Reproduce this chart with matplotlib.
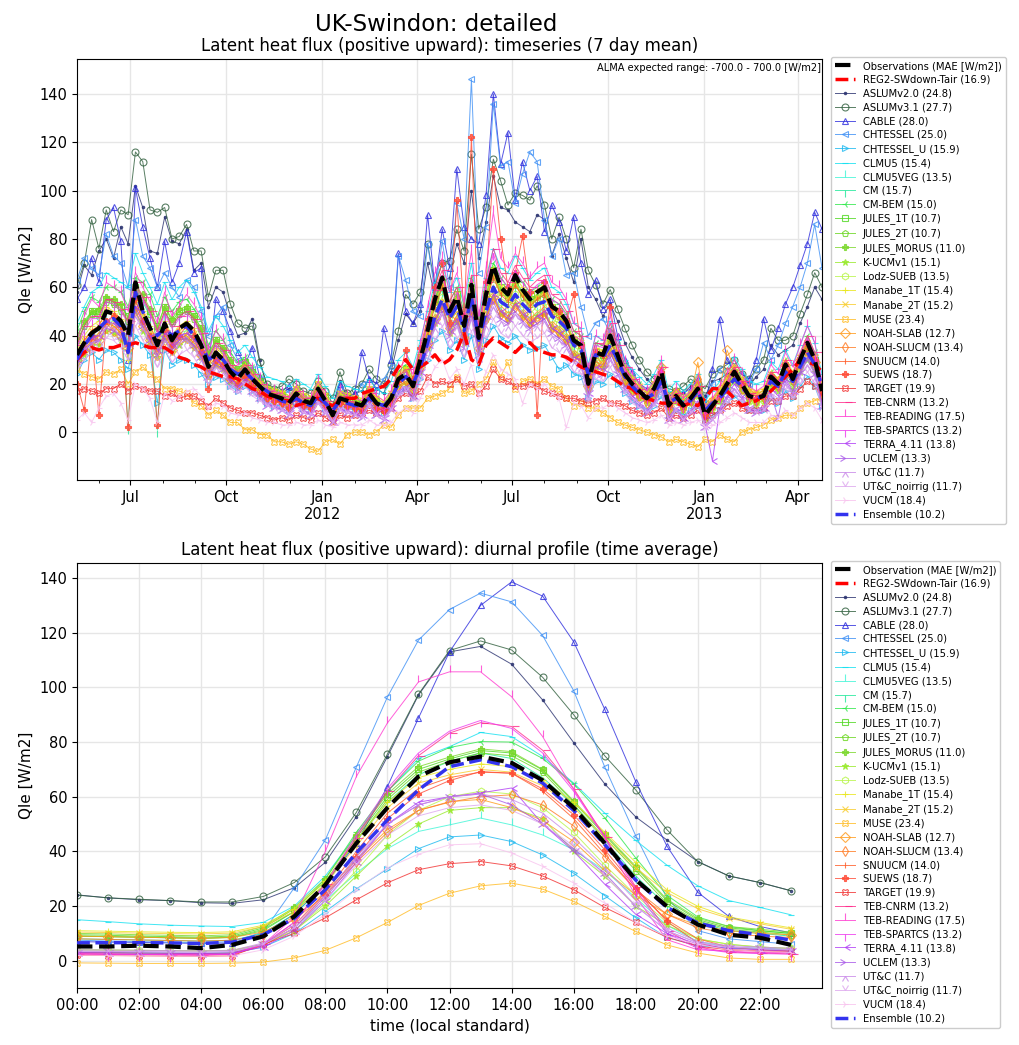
import numpy as np
import pandas as pd
import matplotlib
matplotlib.use("Agg")
import matplotlib.pyplot as plt
import matplotlib.dates as mdates

# ---------- DATA: weekly means (W/m2), 2011-05-11 .. 2013-04-25 ----------
ts_start = "2011-05-11"
ts_periods = 103

ts_obs = [32, 37, 41, 43, 50, 49, 46, 40, 62, 50, 43, 36, 45, 38, 43, 45, 42, 36, 27, 33,
          30, 25, 22, 26, 22, 19, 16, 15, 14, 12, 16, 13, 12, 18, 13, 7, 14, 13, 12, 11,
          16, 12, 10, 14, 22, 24, 19, 30, 42, 55, 64, 50, 56, 44, 61, 39, 57, 69, 60, 57,
          65, 59, 55, 58, 60, 52, 50, 46, 38, 36, 20, 33, 32, 40, 32, 24, 20, 17, 14, 18,
          25, 11, 15, 11, 14, 18, 7, 11, 15, 20, 25, 20, 15, 14, 15, 23, 20, 28, 22, 30,
          37, 30, 17]
ts_reg2 = [30, 33, 35, 34, 35, 35, 36, 36, 37, 36, 35, 35, 35, 33, 31, 30, 28, 27, 25, 24,
           23, 23, 22, 20, 18, 17, 15, 14, 13, 13, 11, 12, 13, 14, 12, 11, 13, 14, 14, 16,
           17, 18, 19, 22, 27, 30, 26, 27, 29, 32, 28, 30, 34, 41, 30, 28, 36, 39, 37, 35,
           33, 36, 37, 34, 33, 32, 32, 31, 29, 27, 26, 25, 24, 23, 21, 19, 18, 15, 14, 13,
           12, 12, 12, 11, 12, 11, 14, 18, 18, 17, 14, 11, 12, 13, 15, 17, 20, 23, 26, 30,
           29, 28, 25]
ts_ens = [30, 36, 40, 43, 46, 47, 44, 33, 58, 50, 43, 40, 43, 40, 42, 44, 40, 36, 30, 32,
          30, 26, 24, 25, 22, 19, 17, 15, 13, 12, 14, 12, 11, 15, 12, 9, 13, 12, 11, 11,
          14, 12, 11, 14, 20, 23, 20, 27, 37, 48, 55, 47, 52, 42, 56, 38, 50, 60, 54, 52,
          57, 53, 50, 53, 54, 48, 46, 43, 36, 34, 24, 32, 31, 36, 30, 23, 19, 16, 14, 16,
          21, 12, 14, 12, 13, 17, 9, 12, 14, 18, 22, 19, 15, 14, 15, 21, 19, 25, 21, 27,
          33, 28, 19]

ts_aslum20 = [58, 69, 65, 75, 80, 72, 85, 78, 102, 93, 75, 74, 89, 79, 78, 84, 67, 70, 52, 60,
              58, 48, 40, 41, 47, 30, 19, 17, 16, 18, 16, 14, 14, 19, 14, 11, 21, 15, 16, 17,
              22, 18, 16, 25, 38, 49, 45, 50, 70, 56, 62, 64, 78, 70, 100, 72, 87, 106, 93, 92,
              87, 85, 83, 90, 88, 73, 82, 72, 62, 80, 60, 55, 48, 53, 46, 37, 31, 26, 22, 19,
              17, 15, 15, 16, 19, 18, 15, 21, 22, 24, 25, 21, 19, 23, 26, 36, 32, 34, 36, 45,
              52, 60, 55]
ts_aslum31 = [61, 70, 88, 76, 92, 83, 92, 90, 116, 112, 92, 91, 93, 80, 81, 86, 75, 75, 56, 67,
              67, 53, 45, 43, 44, 29, 20, 18, 19, 22, 20, 17, 16, 21, 17, 14, 25, 16, 18, 20,
              26, 22, 20, 28, 42, 57, 53, 58, 78, 61, 70, 71, 84, 75, 115, 84, 93, 113, 104, 94,
              99, 98, 96, 102, 94, 80, 89, 80, 68, 84, 67, 61, 53, 59, 51, 43, 36, 30, 25, 22,
              20, 18, 17, 19, 22, 20, 18, 24, 26, 28, 30, 24, 22, 26, 30, 43, 38, 38, 40, 49,
              57, 66, 60]
ts_cable = [55, 60, 72, 62, 88, 93, 79, 30, 101, 85, 72, 60, 79, 62, 70, 83, 66, 68, 27, 55,
            50, 42, 33, 28, 35, 23, 18, 16, 17, 19, 16, 14, 13, 18, 14, 10, 20, 14, 16, 33,
            22, 20, 43, 30, 74, 50, 45, 53, 90, 60, 84, 68, 109, 85, 80, 78, 98, 140, 111, 124,
            96, 112, 100, 106, 83, 94, 87, 75, 89, 70, 57, 63, 51, 55, 40, 30, 25, 20, 18, 17,
            23, 15, 17, 16, 18, 22, 12, 26, 47, 30, 25, 24, 22, 30, 47, 34, 43, 53, 60, 69,
            78, 91, 84]
ts_chtessel = [63, 72, 68, 65, 82, 73, 70, 60, 88, 73, 68, 60, 66, 60, 56, 63, 60, 50, 40, 48,
               52, 36, 30, 28, 26, 22, 17, 15, 15, 17, 15, 13, 12, 17, 13, 9, 18, 13, 14, 20,
               18, 17, 22, 27, 73, 63, 50, 48, 78, 58, 79, 60, 95, 80, 146, 66, 85, 136, 110, 112,
               95, 107, 116, 112, 88, 73, 80, 65, 66, 52, 40, 45, 47, 41, 33, 27, 23, 18, 15, 16,
               18, 13, 16, 14, 17, 19, 12, 20, 26, 23, 22, 21, 20, 26, 37, 30, 36, 45, 52, 60,
               70, 86, 68]
ts_chtessel_u = [24, 30, 33, 30, 34, 33, 30, 26, 40, 36, 32, 12, 34, 28, 30, 30, 28, 24, 20, 23,
                 22, 19, 17, 19, 17, 14, 12, 11, 11, 9, 12, 10, 9, 13, 10, 6, 11, 10, 9, 9,
                 12, 9, 8, 11, 16, 18, 14, 22, 30, 38, 42, 34, 38, 30, 40, 26, 38, 44, 39, 37,
                 40, 36, 34, 35, 36, 31, 26, 28, 24, 23, 14, 21, 20, 24, 20, 16, 13, 11, 9, 11,
                 15, 7, 9, 7, 9, 11, 5, 7, 9, 12, 15, 12, 9, 9, 9, 14, 12, 17, 14, 19,
                 23, 19, 11]
ts_clmu5 = [45, 52, 58, 60, 66, 64, 62, 60, 74, 66, 60, 53, 62, 55, 60, 63, 58, 52, 42, 48,
            44, 38, 33, 36, 31, 27, 23, 22, 21, 19, 22, 20, 18, 24, 19, 14, 21, 19, 18, 17,
            22, 18, 16, 21, 30, 33, 27, 38, 50, 62, 70, 58, 64, 52, 70, 47, 64, 76, 68, 66,
            73, 68, 63, 66, 68, 60, 58, 53, 45, 43, 28, 40, 38, 46, 38, 30, 26, 23, 20, 24,
            30, 17, 21, 17, 20, 24, 13, 17, 21, 26, 31, 26, 21, 20, 21, 29, 26, 34, 28, 36,
            44, 37, 24]
ts_clmu5veg = [30, 36, 40, 40, 46, 46, 44, 38, 54, 48, 42, 36, 42, 37, 41, 42, 40, 35, 27, 31,
               29, 24, 21, 24, 21, 18, 15, 14, 13, 12, 15, 12, 11, 16, 12, 7, 13, 12, 11, 10,
               14, 11, 9, 13, 19, 21, 17, 26, 36, 46, 52, 42, 47, 38, 51, 34, 48, 57, 51, 48,
               54, 50, 47, 49, 51, 44, 43, 40, 33, 31, 19, 29, 28, 34, 28, 21, 18, 15, 13, 16,
               21, 10, 13, 10, 12, 16, 6, 10, 13, 17, 21, 17, 13, 12, 13, 19, 17, 23, 19, 25,
               31, 26, 15]
ts_cm = [36, 44, 50, 46, 56, 54, 50, 2, 60, 54, 48, 1, 50, 44, 48, 50, 47, 40, 30, 36,
         33, 28, 25, 27, 23, 20, 16, 15, 14, 12, 16, 13, 12, 17, 12, 8, 14, 13, 12, 11,
         15, 12, 10, 14, 22, 25, 19, 29, 41, 53, 59, 48, 55, 43, 58, 40, 55, 65, 58, 55,
         61, 57, 53, 56, 58, 50, 48, 44, 37, 35, 21, 32, 31, 38, 31, 24, 20, 17, 14, 17,
         23, 11, 14, 11, 13, 17, 7, 11, 14, 19, 24, 19, 14, 13, 14, 21, 19, 26, 21, 28,
         35, 29, 17]
ts_cm_bem = [42, 50, 56, 54, 60, 60, 58, 52, 64, 62, 57, 48, 56, 50, 54, 55, 51, 46, 36, 42,
             38, 33, 29, 31, 27, 23, 19, 18, 17, 15, 18, 15, 14, 20, 15, 10, 16, 15, 14, 13,
             18, 14, 12, 16, 25, 28, 22, 33, 46, 58, 64, 54, 60, 50, 64, 46, 60, 70, 64, 60,
             66, 62, 58, 60, 62, 55, 53, 49, 42, 40, 25, 37, 36, 43, 36, 28, 23, 20, 17, 20,
             27, 13, 17, 13, 16, 20, 9, 13, 17, 22, 27, 22, 17, 16, 17, 25, 22, 30, 24, 32,
             40, 33, 20]
ts_jules1t = [40, 45, 50, 50, 55, 54, 52, 48, 60, 56, 50, 44, 52, 46, 50, 51, 48, 43, 32, 38,
              35, 30, 26, 29, 25, 21, 18, 16, 15, 13, 17, 14, 13, 18, 14, 8, 15, 14, 13, 12,
              17, 13, 11, 15, 23, 26, 21, 31, 43, 55, 62, 51, 57, 46, 60, 42, 57, 67, 60, 57,
              63, 58, 55, 57, 59, 52, 50, 46, 38, 36, 22, 33, 32, 39, 32, 25, 20, 17, 14, 17,
              24, 11, 15, 11, 14, 18, 8, 11, 15, 20, 25, 20, 15, 14, 15, 23, 20, 28, 22, 30,
              36, 30, 18]
ts_jules2t = [38, 44, 49, 49, 54, 53, 50, 46, 58, 55, 49, 42, 50, 45, 49, 50, 47, 42, 31, 37,
              34, 29, 25, 28, 24, 20, 17, 16, 15, 13, 16, 13, 12, 17, 13, 8, 14, 13, 12, 12,
              16, 12, 11, 14, 22, 25, 20, 30, 42, 53, 60, 49, 55, 45, 58, 41, 55, 65, 58, 55,
              61, 56, 53, 55, 57, 50, 48, 44, 37, 35, 21, 32, 31, 38, 31, 24, 19, 16, 14, 16,
              23, 10, 14, 11, 13, 17, 7, 11, 14, 19, 24, 19, 14, 13, 14, 22, 19, 27, 21, 29,
              35, 29, 17]
ts_jules_morus = [39, 46, 50, 51, 56, 55, 53, 47, 60, 57, 51, 43, 52, 47, 51, 52, 48, 43, 33, 38,
                  35, 30, 26, 29, 25, 21, 18, 17, 16, 14, 17, 14, 13, 18, 14, 9, 15, 14, 13, 12,
                  17, 13, 11, 15, 23, 26, 21, 31, 43, 54, 61, 50, 56, 46, 59, 42, 56, 66, 59, 56,
                  62, 57, 54, 56, 58, 51, 49, 45, 38, 36, 22, 33, 32, 39, 32, 25, 20, 17, 15, 17,
                  24, 11, 15, 11, 14, 18, 8, 12, 15, 20, 25, 20, 15, 14, 15, 23, 20, 28, 22, 30,
                  36, 30, 18]
ts_kucm = [28, 32, 36, 36, 42, 41, 38, 34, 50, 42, 36, 31, 38, 33, 36, 38, 35, 31, 23, 28,
           26, 21, 19, 22, 19, 16, 14, 13, 12, 10, 14, 11, 10, 15, 11, 6, 12, 11, 10, 10,
           14, 10, 9, 12, 19, 20, 16, 25, 35, 45, 52, 41, 46, 37, 50, 33, 47, 56, 49, 47,
           53, 48, 45, 48, 49, 43, 41, 38, 32, 30, 17, 27, 27, 33, 27, 20, 17, 14, 12, 15,
           21, 9, 13, 9, 12, 15, 6, 9, 13, 17, 21, 17, 13, 12, 13, 19, 17, 23, 18, 25,
           30, 25, 14]
ts_lodz = [30, 34, 38, 40, 45, 45, 42, 37, 55, 46, 40, 34, 41, 35, 40, 41, 38, 33, 25, 30,
           28, 23, 20, 24, 20, 17, 15, 14, 13, 11, 15, 12, 11, 16, 12, 7, 13, 12, 11, 10,
           15, 11, 9, 13, 20, 22, 18, 27, 38, 49, 56, 45, 50, 40, 54, 36, 51, 61, 54, 51,
           57, 53, 49, 52, 54, 47, 45, 41, 34, 32, 19, 30, 29, 36, 29, 22, 18, 15, 13, 16,
           22, 10, 13, 10, 13, 16, 6, 10, 13, 18, 22, 18, 13, 12, 13, 20, 18, 25, 20, 27,
           33, 27, 15]
ts_manabe1t = [34, 40, 44, 46, 52, 50, 47, 30, 60, 50, 44, 38, 46, 40, 44, 46, 43, 38, 29, 35,
               32, 27, 25, 28, 24, 21, 19, 18, 17, 15, 19, 16, 15, 21, 16, 11, 17, 16, 15, 14,
               19, 15, 13, 17, 24, 27, 22, 32, 44, 56, 64, 52, 58, 47, 62, 42, 58, 68, 61, 58,
               64, 60, 56, 59, 61, 53, 51, 47, 40, 38, 23, 35, 34, 41, 34, 27, 23, 20, 17, 21,
               27, 15, 18, 15, 17, 21, 11, 14, 18, 23, 27, 23, 18, 17, 18, 25, 22, 30, 25, 32,
               38, 32, 20]
ts_manabe2t = [33, 38, 42, 44, 50, 48, 45, 35, 57, 48, 42, 36, 44, 38, 42, 44, 41, 36, 28, 33,
               31, 26, 24, 27, 23, 20, 18, 17, 16, 14, 18, 15, 14, 20, 15, 10, 16, 15, 14, 13,
               18, 14, 12, 16, 23, 26, 21, 31, 42, 54, 61, 50, 55, 45, 59, 40, 55, 65, 58, 55,
               61, 57, 53, 56, 58, 50, 48, 45, 38, 36, 22, 34, 33, 40, 33, 26, 22, 19, 16, 20,
               26, 14, 17, 14, 16, 20, 10, 13, 17, 22, 26, 22, 17, 16, 17, 24, 21, 29, 24, 31,
               37, 31, 19]
ts_muse = [26, 24, 23, 22, 25, 24, 26, 20, 25, 27, 24, 22, 18, 18, 17, 16, 12, 11, 7, 9,
           7, 4, 4, 1, 1, -1, -1, -4, -4, -5, -4, -5, -7, -8, -4, -3, -5, -1, 0, 0,
           -1, 0, 3, 2, 7, 10, 10, 10, 14, 15, 16, 18, 23, 16, 17, 20, 22, 29, 23, 29,
           18, 21, 22, 20, 22, 19, 18, 14, 11, 12, 10, 10, 8, 6, 4, 3, 2, 1, 0, -1,
           -2, -4, -3, -4, -5, -6, -3, -4, -1, -3, -4, 0, 1, 2, 3, 5, 6, 7, 7, 10,
           12, 13, 14]
ts_noah_slab = [30, 34, 38, 38, 43, 42, 40, 35, 50, 44, 38, 32, 38, 34, 38, 39, 36, 32, 24, 29,
                27, 22, 20, 23, 20, 17, 15, 14, 13, 11, 15, 12, 11, 16, 12, 7, 13, 12, 11, 11,
                15, 11, 9, 13, 20, 22, 18, 27, 37, 47, 53, 43, 48, 39, 51, 35, 48, 56, 50, 48,
                53, 49, 46, 48, 50, 44, 42, 39, 32, 31, 19, 29, 28, 34, 28, 22, 18, 16, 14, 17,
                27, 11, 16, 12, 15, 29, 10, 13, 18, 34, 26, 20, 16, 15, 16, 23, 21, 28, 23, 30,
                35, 29, 17]
ts_noah_slucm = [31, 35, 39, 40, 45, 44, 41, 36, 52, 45, 39, 33, 40, 35, 39, 40, 37, 33, 25, 30,
                 28, 23, 20, 24, 20, 17, 14, 13, 12, 10, 14, 11, 10, 15, 11, 6, 12, 11, 10, 10,
                 14, 10, 9, 12, 19, 21, 17, 26, 36, 46, 52, 42, 47, 38, 50, 34, 47, 55, 49, 47,
                 52, 48, 45, 47, 49, 43, 41, 38, 31, 30, 18, 28, 27, 33, 27, 21, 17, 15, 12, 15,
                 23, 9, 14, 10, 13, 22, 7, 11, 15, 25, 24, 18, 14, 13, 14, 21, 19, 26, 21, 28,
                 33, 28, 16]
ts_snuucm = [33, 38, 42, 44, 50, 49, 46, 40, 58, 50, 44, 37, 45, 39, 43, 45, 42, 37, 28, 33,
             30, 25, 22, 25, 21, 18, 15, 14, 13, 11, 15, 12, 11, 16, 12, 6, 13, 12, 11, 10,
             15, 11, 9, 13, 21, 23, 18, 29, 41, 52, 60, 48, 54, 43, 57, 38, 54, 64, 57, 54,
             61, 56, 52, 55, 57, 49, 47, 44, 37, 35, 20, 32, 31, 38, 31, 23, 19, 16, 13, 17,
             23, 10, 14, 10, 13, 17, 6, 10, 14, 19, 23, 19, 14, 13, 14, 22, 19, 27, 21, 29,
             35, 29, 16]
ts_suews = [20, 9, 40, 7, 46, 48, 44, 2, 55, 46, 40, 3, 42, 36, 40, 44, 40, 33, 18, 30,
            28, 22, 20, 23, 19, 16, 14, 13, 12, 10, 14, 11, 10, 15, 11, 6, 12, 11, 10, 9,
            14, 10, 9, 13, 21, 34, 22, 35, 47, 60, 70, 45, 96, 48, 122, 40, 62, 109, 80, 60,
            66, 81, 58, 7, 62, 52, 50, 46, 57, 36, 20, 33, 32, 52, 32, 24, 20, 17, 14, 18,
            25, 11, 15, 11, 14, 18, 7, 11, 15, 20, 25, 20, 15, 14, 15, 23, 20, 28, 22, 30,
            37, 30, 17]
ts_target = [17, 18, 17, 16, 18, 18, 20, 17, 19, 18, 17, 17, 15, 16, 14, 15, 15, 13, 11, 14,
             12, 10, 9, 8, 8, 7, 6, 5, 6, 5, 7, 6, 5, 8, 6, 4, 7, 6, 7, 8,
             9, 8, 9, 10, 14, 16, 15, 17, 23, 20, 21, 20, 22, 19, 20, 16, 19, 26, 22, 21,
             19, 19, 20, 19, 17, 16, 15, 14, 14, 13, 12, 13, 14, 12, 12, 11, 9, 8, 7, 8,
             10, 6, 7, 6, 7, 9, 5, 7, 9, 11, 12, 10, 9, 9, 10, 13, 13, 15, 15, 18,
             21, 19, 15]
ts_teb_cnrm = [36, 44, 48, 48, 55, 54, 51, 46, 62, 56, 50, 42, 50, 44, 48, 50, 47, 41, 31, 37,
               34, 28, 25, 28, 24, 20, 17, 16, 15, 13, 17, 14, 12, 18, 13, 8, 15, 13, 12, 11,
               16, 12, 10, 14, 23, 26, 20, 32, 46, 59, 67, 54, 60, 48, 65, 44, 62, 76, 66, 62,
               69, 64, 60, 63, 65, 57, 55, 50, 42, 40, 24, 37, 36, 45, 36, 27, 22, 18, 15, 19,
               27, 12, 16, 12, 15, 19, 8, 12, 16, 21, 27, 21, 16, 15, 16, 25, 21, 30, 24, 33,
               40, 33, 18]
ts_teb_reading = [38, 48, 55, 52, 62, 60, 58, 50, 66, 60, 54, 45, 58, 48, 52, 57, 53, 47, 34, 42,
                  38, 32, 28, 30, 26, 22, 18, 17, 16, 14, 19, 15, 14, 21, 15, 9, 17, 15, 14, 13,
                  19, 15, 13, 17, 26, 30, 24, 36, 52, 66, 72, 58, 66, 54, 75, 48, 68, 91, 72, 68,
                  74, 70, 64, 68, 70, 62, 60, 55, 45, 43, 26, 40, 38, 48, 38, 29, 24, 20, 17, 21,
                  29, 13, 18, 14, 17, 22, 9, 14, 19, 24, 30, 24, 19, 17, 19, 28, 24, 33, 27, 36,
                  44, 37, 21]
ts_teb_spartcs = [35, 42, 47, 47, 54, 53, 50, 45, 60, 55, 49, 41, 49, 43, 47, 49, 46, 40, 30, 36,
                  33, 27, 24, 27, 23, 19, 16, 15, 14, 12, 16, 13, 11, 17, 12, 7, 14, 12, 11, 10,
                  15, 11, 9, 13, 22, 25, 19, 31, 45, 57, 65, 52, 58, 46, 63, 42, 60, 74, 64, 60,
                  67, 62, 58, 61, 63, 55, 53, 48, 40, 38, 23, 36, 35, 43, 35, 26, 21, 17, 14, 18,
                  26, 11, 15, 11, 14, 18, 7, 11, 15, 20, 26, 20, 15, 14, 15, 24, 20, 29, 23, 32,
                  39, 32, 17]
ts_terra = [30, 35, 39, 40, 46, 45, 42, 37, 52, 46, 40, 34, 41, 36, 40, 41, 38, 33, 25, 30,
            27, 22, 19, 22, 18, 15, 12, 11, 10, 8, 12, 9, 8, 13, 9, 4, 10, 9, 8, 7,
            12, 8, 6, 10, 17, 19, 15, 25, 36, 46, 53, 42, 47, 37, 51, 34, 48, 57, 50, 47,
            53, 49, 45, 48, 50, 43, 41, 38, 31, 30, 16, 27, 26, 33, 26, 19, 15, 12, 9, 13,
            20, 6, 10, 6, 9, 13, 3, -12, 10, 15, 20, 15, 10, 9, 10, 18, 15, 22, 17, 25,
            31, 25, 12]
ts_uclem = [28, 33, 37, 38, 43, 42, 40, 35, 50, 44, 38, 32, 39, 34, 38, 39, 36, 31, 23, 28,
            26, 21, 18, 21, 17, 14, 11, 10, 9, 7, 11, 8, 7, 12, 8, 4, 9, 8, 7, 6,
            11, 7, 5, 9, 16, 18, 14, 24, 34, 44, 50, 40, 45, 35, 48, 32, 45, 54, 47, 45,
            50, 46, 43, 45, 47, 41, 39, 36, 30, 28, 15, 25, 24, 31, 24, 18, 14, 11, 8, 12,
            18, 5, 9, 5, 8, 12, 2, 5, 9, 14, 18, 14, 9, 8, 9, 16, 6, 21, 16, 24,
            30, 24, 11]
ts_utc = [29, 34, 37, 38, 44, 43, 40, 34, 48, 43, 37, 31, 38, 33, 37, 38, 35, 30, 23, 27,
          25, 20, 18, 21, 17, 14, 12, 11, 10, 8, 12, 9, 8, 13, 9, 5, 10, 9, 8, 7,
          12, 8, 6, 10, 17, 19, 15, 24, 34, 43, 49, 39, 44, 35, 47, 31, 44, 52, 46, 44,
          49, 45, 42, 44, 46, 40, 38, 35, 29, 27, 15, 25, 24, 30, 24, 18, 14, 12, 9, 12,
          18, 6, 10, 6, 9, 12, 3, 6, 9, 14, 18, 14, 10, 9, 10, 16, 14, 20, 16, 23,
          28, 23, 11]
ts_utc_noirrig = [26, 30, 33, 34, 39, 38, 35, 30, 44, 38, 33, 27, 34, 29, 32, 34, 31, 26, 20, 24,
                  22, 18, 16, 19, 15, 13, 11, 10, 9, 7, 11, 8, 7, 12, 8, 4, 9, 8, 7, 6,
                  11, 7, 5, 9, 15, 17, 13, 21, 30, 38, 44, 35, 39, 31, 42, 28, 39, 47, 41, 39,
                  44, 40, 37, 39, 41, 35, 33, 30, 25, 24, 13, 22, 21, 27, 21, 16, 12, 10, 8, 11,
                  16, 5, 9, 5, 8, 11, 2, 5, 8, 12, 16, 12, 9, 8, 9, 14, 12, 18, 14, 20,
                  25, 20, 10]
ts_vucm = [5, 8, 4, 10, 15, 16, 12, 5, 20, 18, 14, 4, 16, 13, 15, 17, 18, 15, 10, 12,
           11, 8, 7, 8, 6, 5, 4, 4, 3, 3, 4, 3, 3, 5, 3, 2, 4, 3, 3, 3,
           5, 3, 3, 4, 8, 10, 8, 14, 20, 27, 30, 22, 26, 20, 28, 15, 25, 32, 26, 24,
           22, 12, 20, 18, 20, 16, 14, 2, 12, 11, 6, 10, 10, 12, 10, 8, 6, 5, 4, 5,
           7, 3, 4, 3, 4, 5, 2, 3, 4, 6, 8, 6, 4, 4, 4, 7, 6, 9, 7, 10,
           12, 10, 5]

# ---------- DATA: diurnal profile (hour 0..23) ----------
hours = list(range(24))
dp_obs = [5.2, 5.2, 5.5, 5.2, 4.6, 5.8, 8.9, 16.2, 27.8, 43, 56, 67.4, 72.6, 74.7, 72.4, 66, 56, 43, 29.6, 19.9, 13.2, 9.5, 8.4, 5.8]
dp_ens = [6.5, 6.6, 6.6, 6.5, 6.3, 6.8, 9.5, 15.5, 26, 39.5, 51.5, 62.5, 71, 73.5, 71, 65, 55, 42.5, 29.5, 19.5, 13.8, 11, 9.5, 7.5]
dp_aslum20 = [24.1, 23, 22.3, 22, 21.2, 21, 22.3, 26.7, 36, 52.7, 74.7, 97.2, 113, 115, 108.5, 95.4, 79.8, 64.7, 52.6, 44.2, 36.3, 31, 28.6, 25.6]
dp_aslum31 = [24, 23, 22.5, 22, 21.5, 21.5, 23.5, 28.6, 38, 54.3, 75.6, 97.5, 113.5, 117, 113.7, 103.7, 90, 75, 62.5, 48, 36.2, 31, 28.6, 25.6]
dp_cable = [7, 6.8, 6.7, 6.5, 6.3, 6.5, 10, 17, 28, 43, 63.7, 88.8, 113, 130, 138.6, 133.4, 116.7, 92, 65.5, 42, 25, 16.2, 12.5, 10.2]
dp_chtessel = [7.5, 7.2, 7, 6.8, 6.6, 7, 10.5, 26.7, 44.2, 70.9, 96.5, 117.3, 128.5, 134.5, 131.3, 119, 98.8, 70.9, 45.7, 23, 11, 8, 7, 6]
dp_chtessel_u = [3, 3, 2.8, 2.7, 2.6, 2.8, 5, 10, 18, 26.3, 33.6, 41, 45.3, 46, 43.6, 38.7, 32, 23.8, 15.7, 8.5, 5.5, 4.5, 4.5, 4]
dp_clmu5 = [15, 14.3, 13.5, 13, 12.7, 12.5, 14, 20, 31, 46, 62, 74, 78.3, 83.5, 82, 74.7, 65, 54, 44, 35, 27.4, 22, 19.5, 16.8]
dp_clmu5veg = [3, 3, 2.9, 2.8, 2.7, 3, 6, 12, 22, 32, 41, 47.3, 49.7, 52.2, 49.7, 46, 40.6, 33, 23, 13, 7, 5, 4.5, 4]
dp_cm = [8, 7.8, 7.6, 7.4, 7.2, 7.5, 10, 17, 28, 44, 58, 68, 73, 76, 74, 67, 57, 44, 31, 20, 14, 11, 10, 9]
dp_cm_bem = [9, 8.8, 8.6, 8.4, 8.2, 8.5, 11, 18, 30, 47, 62, 73, 78, 80.2, 80, 74, 64.7, 52.3, 37.6, 24, 16, 12.5, 11, 10]
dp_jules1t = [9.5, 9.3, 9, 8.8, 8.6, 9, 12, 19, 29, 45, 60, 70, 73.8, 76.9, 76, 69.8, 58, 46, 34, 22, 15, 12, 11, 10]
dp_jules2t = [9, 8.8, 8.6, 8.4, 8.2, 8.6, 11.5, 18, 28, 44, 59, 69, 73, 76, 75, 69, 57, 45, 33, 21, 14.5, 11.5, 10.5, 9.5]
dp_jules_morus = [10, 9.8, 9.5, 9.3, 9.1, 9.5, 12.5, 19.5, 30, 46, 61, 71, 74.5, 77.5, 76.5, 70, 58.5, 46.5, 34.5, 22.5, 15.5, 12.5, 11.5, 10.5]
dp_kucm = [4, 3.9, 3.8, 3.7, 3.6, 3.8, 6, 11, 20, 31, 42, 50, 55, 56, 56, 52, 40, 31, 20, 13, 8, 6, 5, 4.5]
dp_lodz = [4, 3.9, 3.8, 3.7, 3.6, 3.8, 6, 11, 21, 33, 46, 55, 60, 62, 61, 56, 47, 35, 24, 14, 8, 6, 5, 4.5]
dp_manabe1t = [11, 10.8, 10.6, 10.4, 10.3, 10.6, 13, 19, 29, 44, 58, 67, 70, 72, 71, 66, 58, 47, 36, 26, 19.9, 16, 14, 12]
dp_manabe2t = [10.5, 10.3, 10.1, 9.9, 9.8, 10.1, 12.5, 18, 28, 42, 56, 65, 68, 70, 69, 64, 56, 45, 34, 25, 19, 15.5, 13.5, 11.5]
dp_muse = [-0.8, -0.9, -1, -1, -1, -0.9, -0.5, 1, 3.8, 8.4, 14, 20.2, 24.7, 27.4, 28.4, 26.2, 21.7, 16.2, 10.7, 5.8, 2.8, 1, 0.5, 0.5]
dp_noah_slab = [9, 8.8, 8.6, 8.4, 8.2, 8.5, 10.5, 16, 25, 37, 48, 55, 58.2, 59, 56, 51.3, 43.6, 33, 24, 17, 13, 11, 10, 9.5]
dp_noah_slucm = [8, 7.8, 7.6, 7.4, 7.2, 7.5, 9.5, 15, 24, 36, 47, 55, 58, 60, 60.7, 57, 49.3, 38, 26, 17, 12, 10, 9, 8.5]
dp_snuucm = [3, 2.9, 2.8, 2.7, 2.6, 2.8, 6, 13, 25, 40, 54, 63, 67, 69, 68.6, 62, 52, 39, 26, 15, 8, 5, 4, 3.5]
dp_suews = [2.5, 2.4, 2.3, 2.2, 2.1, 2.3, 5.5, 12, 24, 38, 52, 61, 65.9, 69.2, 68.6, 62.9, 53.4, 40.6, 26.7, 14.4, 6.5, 4, 3.5, 3]
dp_target = [2, 1.9, 1.8, 1.7, 1.6, 1.8, 6, 10, 15.7, 22.3, 28.5, 33.3, 35.5, 36.3, 34.7, 31, 26, 19.5, 14, 8.6, 5.3, 4, 3.6, 3.5]
dp_teb_cnrm = [2.5, 2.4, 2.3, 2.2, 2.1, 2.4, 6, 14, 28, 45, 62, 75, 83.3, 87.1, 85.7, 77, 63, 45.4, 27, 11, 5, 3.2, 2.8, 2.5]
dp_teb_reading = [2.5, 2.4, 2.3, 2.2, 2.1, 2.4, 6, 16, 40, 67.4, 87, 102, 105.7, 105.7, 96.6, 82, 62.5, 45.4, 23.5, 7.7, 4, 3.5, 3, 3]
dp_teb_spartcs = [2.5, 2.4, 2.3, 2.2, 2.1, 2.4, 6, 14, 28, 46, 63, 76, 84, 87.9, 85, 76, 62, 45, 26, 10, 4.5, 3, 2.6, 2.4]
dp_terra = [3, 2.9, 2.8, 2.7, 2.6, 2.8, 5, 11, 22, 36, 50, 58, 60, 61.4, 63.2, 50, 40, 28, 17, 10, 6, 4.5, 4, 3.5]
dp_uclem = [3.5, 3.4, 3.3, 3.2, 3.1, 3.3, 6, 12, 23, 37, 50, 57, 60, 61, 57, 50, 41, 32, 20, 11, 6.5, 5, 4.5, 4]
dp_utc = [4, 3.9, 3.8, 3.7, 3.6, 3.8, 6.5, 13, 24, 38, 50, 57, 60, 61, 59, 54, 45, 34, 22, 12, 7, 5.5, 5, 4.5]
dp_utc_noirrig = [3.5, 3.4, 3.3, 3.2, 3.1, 3.3, 6, 12, 22, 35, 46, 53, 56, 57, 55, 50, 42, 31, 20, 11, 6.5, 5, 4.5, 4]
dp_vucm = [2, 1.9, 1.8, 1.7, 1.6, 1.8, 4, 9, 17, 26, 34, 39, 42.4, 42.8, 39.4, 34.5, 28.4, 21, 14, 9, 6, 4, 3.5, 3]

# ---------- MODELS: name, MAE, colour, marker ----------
models = ["ASLUMv2.0", "ASLUMv3.1", "CABLE", "CHTESSEL", "CHTESSEL_U", "CLMU5", "CLMU5VEG",
          "CM", "CM-BEM", "JULES_1T", "JULES_2T", "JULES_MORUS", "K-UCMv1", "Lodz-SUEB",
          "Manabe_1T", "Manabe_2T", "MUSE", "NOAH-SLAB", "NOAH-SLUCM", "SNUUCM", "SUEWS",
          "TARGET", "TEB-CNRM", "TEB-READING", "TEB-SPARTCS", "TERRA_4.11", "UCLEM", "UT&C",
          "UT&C_noirrig", "VUCM"]
mae = [24.8, 27.7, 28.0, 25.0, 15.9, 15.4, 13.5, 15.7, 15.0, 10.7, 10.7, 11.0, 15.1, 13.5,
       15.4, 15.2, 23.4, 12.7, 13.4, 14.0, 18.7, 19.9, 13.2, 17.5, 13.2, 13.8, 13.3, 11.7, 11.7, 18.4]
colours = ["#28306e", "#2f5e3c", "#2c2cdd", "#3d8ff5", "#1ab8f0", "#12e0f0", "#3ef5d6",
           "#1fe89a", "#2ee84a", "#4fd81f", "#6ad61f", "#7ad82a", "#98ea2a", "#b8f54a",
           "#e8e61a", "#f8cc2a", "#ffbb22", "#ff9a1a", "#ff7a22", "#ff5a25", "#ff4a35",
           "#f23030", "#ff2a8a", "#ff38d0", "#ee38ee", "#b03cf5", "#a858e8", "#c888e8",
           "#dda6ee", "#f8c2ee"]
markers = [".", "o", "^", "<", ">", "_", 2, 3, "3", "s", "p", "P", "*", "h", "+", "x", "X",
           "D", "d", "|", "P", "X", 1, 2, 3, 4, 5, 6, 7, "4"]
filled = {".", "P", "*"}

ts_series = [ts_aslum20, ts_aslum31, ts_cable, ts_chtessel, ts_chtessel_u, ts_clmu5, ts_clmu5veg,
             ts_cm, ts_cm_bem, ts_jules1t, ts_jules2t, ts_jules_morus, ts_kucm, ts_lodz,
             ts_manabe1t, ts_manabe2t, ts_muse, ts_noah_slab, ts_noah_slucm, ts_snuucm, ts_suews,
             ts_target, ts_teb_cnrm, ts_teb_reading, ts_teb_spartcs, ts_terra, ts_uclem, ts_utc,
             ts_utc_noirrig, ts_vucm]
dp_series = [dp_aslum20, dp_aslum31, dp_cable, dp_chtessel, dp_chtessel_u, dp_clmu5, dp_clmu5veg,
             dp_cm, dp_cm_bem, dp_jules1t, dp_jules2t, dp_jules_morus, dp_kucm, dp_lodz,
             dp_manabe1t, dp_manabe2t, dp_muse, dp_noah_slab, dp_noah_slucm, dp_snuucm, dp_suews,
             dp_target, dp_teb_cnrm, dp_teb_reading, dp_teb_spartcs, dp_terra, dp_uclem, dp_utc,
             dp_utc_noirrig, dp_vucm]

dates = pd.date_range(ts_start, periods=ts_periods, freq="7D")


def draw_models(ax, x, series_list):
    for name, err, col, mk, vals in zip(models, mae, colours, markers, series_list):
        ax.plot(x, vals, color=col, lw=0.7, alpha=0.8, marker=mk,
                ms=3.5 if mk == "." else 5, mew=0.8,
                fillstyle="full" if mk in filled else "none",
                label=f"{name} ({err})", zorder=2)


def style_axis(ax, title):
    ax.set_title(title, fontsize=12)
    ax.set_ylabel("Qle [W/m2]", fontsize=11)
    ax.grid(True, color="#e6e6e6", lw=1)
    ax.set_axisbelow(True)
    ax.tick_params(labelsize=10.5)
    ax.legend(loc="upper left", bbox_to_anchor=(1.012, 1.005), borderaxespad=0,
              fontsize=7.2, labelspacing=0.38, handlelength=2.0, handletextpad=0.8,
              borderpad=0.4, framealpha=1)


fig = plt.figure(figsize=(10.2, 10.45), dpi=100)
fig.suptitle("UK-Swindon: detailed", fontsize=16.5, x=0.428, y=0.988)

# ---------- TIMESERIES ----------
ax1 = fig.add_axes([0.0755, 0.5407, 0.7304, 0.4029])
ax1.plot(dates, ts_obs, color="black", lw=3, ls="--", label="Observations (MAE [W/m2])", zorder=5)
ax1.plot(dates, ts_reg2, color="red", lw=2.5, ls="--", label="REG2-SWdown-Tair (16.9)", zorder=4)
draw_models(ax1, dates, ts_series)
ax1.plot(dates, ts_ens, color="#3333ee", lw=2.5, ls="--", label="Ensemble (10.2)", zorder=4)
ax1.set_xlim(dates[0], dates[-1])
ax1.set_ylim(-19.8, 154.5)
ax1.xaxis.set_major_locator(mdates.MonthLocator(bymonth=[1, 4, 7, 10]))
ax1.xaxis.set_minor_locator(mdates.MonthLocator())
ax1.xaxis.set_major_formatter(plt.FuncFormatter(
    lambda v, pos: mdates.num2date(v).strftime("%b\n%Y" if mdates.num2date(v).month == 1 else "%b")))
ax1.text(0.998, 0.99, "ALMA expected range: -700.0 - 700.0 [W/m2]", transform=ax1.transAxes,
         ha="right", va="top", fontsize=7.1)
style_axis(ax1, "Latent heat flux (positive upward): timeseries (7 day mean)")

# ---------- DIURNAL ----------
ax2 = fig.add_axes([0.0755, 0.0545, 0.7304, 0.4067])
ax2.plot(hours, dp_obs, color="black", lw=3, ls="--", label="Observation (MAE [W/m2])", zorder=5)
ax2.plot([], [], color="red", lw=2.5, ls="--", label="REG2-SWdown-Tair (16.9)")
draw_models(ax2, hours, dp_series)
ax2.plot(hours, dp_ens, color="#3333ee", lw=2.5, ls="--", label="Ensemble (10.2)", zorder=4)
ax2.set_xlim(0, 24)
ax2.set_ylim(-10, 145.5)
ax2.set_xticks(range(0, 24, 2))
ax2.set_xticklabels([f"{h:02d}:00" for h in range(0, 24, 2)])
ax2.set_xlabel("time (local standard)", fontsize=11)
style_axis(ax2, "Latent heat flux (positive upward): diurnal profile (time average)")

fig.savefig("out.png", dpi=100)
